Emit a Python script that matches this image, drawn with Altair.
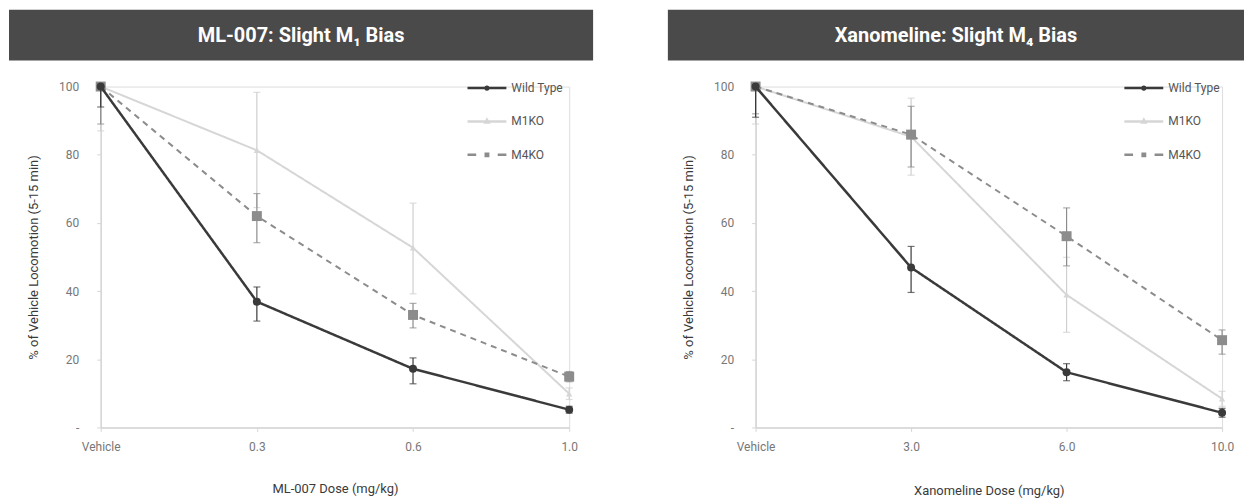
import altair as alt
import pandas as pd

# ---------------- data ----------------
SERIES = ["Wild Type", "M1KO", "M4KO"]
COLORS = ["#3a3a3a", "#d6d6d6", "#8c8c8c"]
ERR_COLORS = ["#3a3a3a", "#cfcfcf", "#8c8c8c"]
SHAPES = ["circle", "triangle-up", "square"]
SIZES = [64, 40, 100]
WIDTHS = [2.5, 2, 2]
DASHES = [[1, 0], [1, 0], [6, 5]]

# legend symbols: line - marker - line
LEGEND_PATHS = [
    "M-1.3,0H-0.09M0.09,0H1.3M-0.09,0a0.09,0.09 0 1,0 0.18,0a0.09,0.09 0 1,0 -0.18,0Z",
    "M-1.3,0H1.3M-0.1,0.08L0,-0.1L0.1,0.08Z",
    "M-1.3,0H-0.72M0.72,0H1.3M-0.08,-0.08H0.08V0.08H-0.08Z",
]

ML_TITLE = "ML-007: Slight M\u2081 Bias"
ML_XTITLE = "ML-007 Dose (mg/kg)"
ML_DOSES = ["Vehicle", "0.3", "0.6", "1.0"]
ML_WT = [100, 36.9, 17.2, 5.2]
ML_WT_LO = [94, 31.2, 12.8, 4.2]
ML_WT_HI = [100, 41.2, 20.4, 6.2]
ML_M1 = [100, 81.3, 52.7, 9.9]
ML_M1_LO = [87, 64.5, 39.2, 8.2]
ML_M1_HI = [100, 98.3, 65.8, 11.6]
ML_M4 = [100, 62.0, 33.0, 14.9]
ML_M4_LO = [89, 54.2, 29.2, 13.4]
ML_M4_HI = [100, 68.6, 36.4, 16.4]

XA_TITLE = "Xanomeline: Slight M\u2084 Bias"
XA_XTITLE = "Xanomeline Dose (mg/kg)"
XA_DOSES = ["Vehicle", "3.0", "6.0", "10.0"]
XA_WT = [100, 46.9, 16.2, 4.3]
XA_WT_LO = [91, 39.6, 13.7, 3.0]
XA_WT_HI = [100, 53.1, 18.7, 5.6]
XA_M1 = [100, 85.3, 38.9, 8.4]
XA_M1_LO = [89, 74.0, 27.9, 6.2]
XA_M1_HI = [100, 96.6, 49.9, 10.6]
XA_M4 = [100, 85.9, 56.1, 25.6]
XA_M4_LO = [92, 76.4, 47.4, 21.5]
XA_M4_HI = [100, 94.2, 64.4, 28.6]

Y_TITLE = "% of Vehicle Locomotion (5-15 min)"
Y_TICKS = [0, 20, 40, 60, 80, 100]

FONT = "Roboto"
AXIS_GRAY = "#d6d6d6"


def panel(title, xtitle, doses, vals, width, banner_x, banner_x2, legend_x, xtitle_pad):
    rows = []
    order = [1, 2, 0]  # light first, dark on top
    for i in order:
        v, lo, hi = vals[i]
        for d, a, b, c in zip(doses, v, lo, hi):
            rows.append(dict(dose=d, series=SERIES[i], value=a, lo=b, hi=c))
    df = pd.DataFrame(rows)
    base = alt.Chart(df)

    x_axis = alt.Axis(
        labelAngle=0, labelColor="#777777", labelFontSize=12, labelPadding=10,
        tickSize=4, tickColor=AXIS_GRAY, domainColor=AXIS_GRAY, domainWidth=1.5,
        titleColor="#3a3a3a", titleFontSize=13, titleFontWeight="normal",
        titlePadding=xtitle_pad, grid=False,
    )
    y_axis = alt.Axis(
        values=Y_TICKS, labelColor="#777777", labelFontSize=12, labelPadding=18,
        labelExpr="datum.value == 0 ? '-\u00a0\u00a0' : datum.label",
        tickSize=4, tickColor=AXIS_GRAY, domainColor=AXIS_GRAY, domainWidth=1.5,
        titleColor="#3a3a3a", titleFontSize=13, titleFontWeight="normal",
        titlePadding=18, grid=False,
    )
    xs = alt.Scale(type="point", padding=0)
    ys = alt.Scale(domain=[0, 100], nice=False)

    def X():
        return alt.X("dose:N", sort=doses, scale=xs, axis=x_axis, title=xtitle)

    def Yf(field):
        return alt.Y(field, type="quantitative", scale=ys, axis=y_axis, title=Y_TITLE)

    layers = []
    for i in order:
        name = SERIES[i]
        sub = base.transform_filter(alt.datum.series == name)
        layers.append(
            sub.mark_rule(color=ERR_COLORS[i], strokeWidth=1.2).encode(
                x=X(), y=Yf("lo"), y2="hi")
        )
        for f in ["lo", "hi"]:
            layers.append(
                sub.mark_tick(color=ERR_COLORS[i], thickness=1.2, size=7,
                              orient="horizontal").encode(x=X(), y=Yf(f))
            )
        layers.append(
            sub.mark_line(color=COLORS[i], strokeWidth=WIDTHS[i],
                          strokeDash=DASHES[i]).encode(x=X(), y=Yf("value"))
        )
        layers.append(
            sub.mark_point(color=COLORS[i], filled=True, opacity=1,
                           shape=SHAPES[i], size=SIZES[i]).encode(
                x=X(), y=Yf("value"))
        )

    leg = dict(
        title=None, orient="none", legendX=legend_x, legendY=-15,
        symbolSize=900, symbolStrokeWidth=2.5, labelFont=FONT, labelFontSize=12,
        labelColor="#555555", labelOffset=8, rowPadding=10.5, padding=0,
    )
    legend_layer = base.transform_filter("false").mark_point(
        filled=False, strokeWidth=2.5, opacity=1).encode(
        x=X(), y=Yf("value"),
        color=alt.Color("series:N", scale=alt.Scale(domain=SERIES, range=COLORS),
                        legend=alt.Legend(**leg)),
        shape=alt.Shape("series:N", scale=alt.Scale(domain=SERIES, range=LEGEND_PATHS),
                        legend=alt.Legend(**leg)),
    )
    layers.append(legend_layer)

    tdf = pd.DataFrame({"t": [title]})
    banner = alt.Chart(tdf).mark_rect(color="#4a4a4a").encode(
        x=alt.value(banner_x), x2=alt.value(banner_x2),
        y=alt.value(-77), y2=alt.value(-26))
    btext = alt.Chart(tdf).mark_text(
        color="white", fontSize=20, fontWeight="bold", font=FONT,
        align="center", baseline="middle").encode(
        x=alt.value((banner_x + banner_x2) / 2), y=alt.value(-51), text="t:N")

    return alt.layer(banner, btext, *layers).properties(width=width, height=342)


left = panel(ML_TITLE, ML_XTITLE, ML_DOSES,
             [(ML_WT, ML_WT_LO, ML_WT_HI), (ML_M1, ML_M1_LO, ML_M1_HI),
              (ML_M4, ML_M4_LO, ML_M4_HI)],
             470, -92, 494, 371, 30)
right = panel(XA_TITLE, XA_XTITLE, XA_DOSES,
              [(XA_WT, XA_WT_LO, XA_WT_HI), (XA_M1, XA_M1_LO, XA_M1_HI),
               (XA_M4, XA_M4_LO, XA_M4_HI)],
              468, -88, 490, 373, 32)

chart = alt.hconcat(left, right, spacing=73, padding=0).resolve_scale(
    color="independent", shape="independent").resolve_legend(
    color="independent", shape="independent").configure_view(
    stroke=None).configure(font=FONT, background="white")

chart.save("out.html", embed_options={"renderer": "svg", "actions": False})
